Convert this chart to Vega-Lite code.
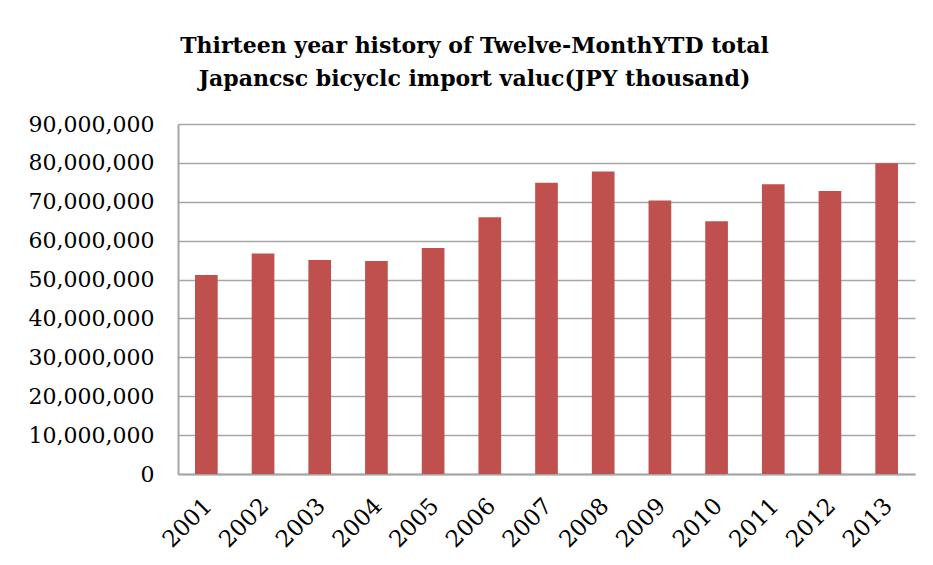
{
  "$schema": "https://vega.github.io/schema/vega-lite/v6.json",
  "width": 737,
  "height": 350,
  "autosize": {"type": "none"},
  "padding": {"left": 178, "top": 124, "right": 18, "bottom": 91},
  "background": "white",
  "title": {
    "text": ["Thirteen year history of Twelve-MonthYTD total", "Japancsc bicyclc import valuc(JPY thousand)"],
    "font": "DejaVu Serif",
    "fontSize": 22,
    "fontWeight": "bold",
    "color": "#000000",
    "lineHeight": 33,
    "anchor": "middle",
    "dx": -72,
    "offset": 22
  },
  "data": {
    "values": [
      {"year": "2001", "value": 51200000},
      {"year": "2002", "value": 56700000},
      {"year": "2003", "value": 55000000},
      {"year": "2004", "value": 54800000},
      {"year": "2005", "value": 58100000},
      {"year": "2006", "value": 66000000},
      {"year": "2007", "value": 74900000},
      {"year": "2008", "value": 77800000},
      {"year": "2009", "value": 70300000},
      {"year": "2010", "value": 65000000},
      {"year": "2011", "value": 74500000},
      {"year": "2012", "value": 72800000},
      {"year": "2013", "value": 79900000}
    ]
  },
  "mark": {"type": "bar", "color": "#C0504D"},
  "encoding": {
    "x": {
      "field": "year",
      "type": "ordinal",
      "title": null,
      "scale": {"paddingInner": 0.6, "paddingOuter": 0.3},
      "axis": {
        "labelAngle": -45,
        "labelAlign": "right",
        "labelBaseline": "middle",
        "labelPadding": 28,
        "labelOffset": 2,
        "labelFont": "DejaVu Serif",
        "labelFontSize": 23,
        "labelColor": "#000000",
        "ticks": false,
        "domainColor": "#a6a6a6",
        "domainWidth": 2,
        "grid": false
      }
    },
    "y": {
      "field": "value",
      "type": "quantitative",
      "title": null,
      "scale": {"domain": [0, 90000000], "nice": false},
      "axis": {
        "values": [0, 10000000, 20000000, 30000000, 40000000, 50000000, 60000000, 70000000, 80000000, 90000000],
        "format": ",.0f",
        "labelFont": "DejaVu Serif",
        "labelFontSize": 22,
        "labelColor": "#000000",
        "labelPadding": 24,
        "ticks": false,
        "domainColor": "#a6a6a6",
        "domainWidth": 2,
        "grid": true,
        "gridColor": "#a6a6a6",
        "gridWidth": 1.5
      }
    }
  },
  "config": {
    "view": {"stroke": null}
  }
}
